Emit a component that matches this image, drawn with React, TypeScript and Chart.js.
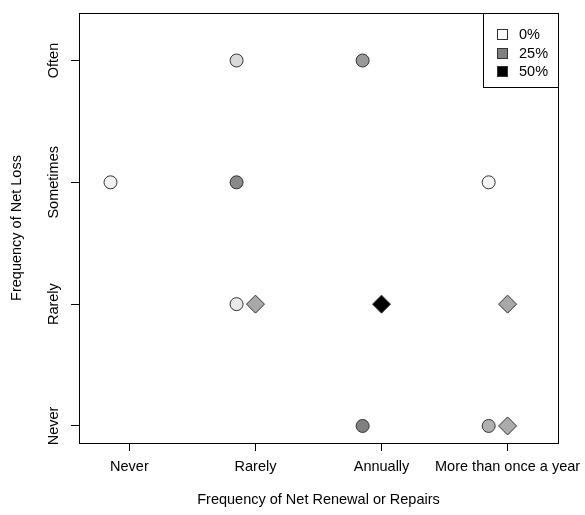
import React, { useEffect, useRef } from "react";
import { Chart, registerables } from "chart.js";
Chart.register(...registerables);

const renewalLabels = ["Never", "Rarely", "Annually", "More than once a year"];
const lossLabels = ["Never", "Rarely", "Sometimes", "Often"];

// circle markers: renewal category index (1-4), loss category index (1-4), percentage
const circleRenewal = [1, 2, 2, 2, 3, 3, 4, 4];
const circleLoss = [3, 4, 3, 2, 4, 1, 3, 1];
const circlePct = [3, 7.5, 23, 4.5, 20, 25, 2, 15.5];

// diamond markers
const diamondRenewal = [2, 3, 4, 4];
const diamondLoss = [2, 2, 2, 1];
const diamondPct = [17, 50, 17, 16.5];

const legendLabels = ["0%", "25%", "50%"];
const legendPct = [0, 25, 50];

const circleOffset = -0.15;
const FONT = "'Liberation Sans', Arial, sans-serif";
const FS = 14.5;

function gray(pct: number): string {
  const g = Math.round(255 * (1 - pct / 50));
  return `rgb(${g},${g},${g})`;
}

const overlayPlugin = {
  id: "overlay",
  afterDraw(chart: any) {
    const { ctx, chartArea } = chart;
    const ys = chart.scales.y;
    ctx.save();
    // plot box
    ctx.strokeStyle = "#000";
    ctx.lineWidth = 1;
    ctx.strokeRect(
      Math.round(chartArea.left) + 0.5,
      Math.round(chartArea.top) + 0.5,
      Math.round(chartArea.right - chartArea.left),
      Math.round(chartArea.bottom - chartArea.top)
    );
    // rotated y tick labels
    ctx.fillStyle = "#000";
    ctx.font = `${FS}px ${FONT}`;
    ctx.textAlign = "center";
    ctx.textBaseline = "middle";
    lossLabels.forEach((lab, i) => {
      const py = ys.getPixelForValue(i + 1);
      ctx.save();
      ctx.translate(54, py);
      ctx.rotate(-Math.PI / 2);
      ctx.fillText(lab, 0, 0);
      ctx.restore();
    });
    // legend
    const lx = 483;
    const lr = Math.round(chartArea.right);
    const lt = Math.round(chartArea.top);
    ctx.fillStyle = "#fff";
    ctx.fillRect(lx + 0.5, lt + 0.5, lr - lx, 74);
    ctx.strokeStyle = "#000";
    ctx.strokeRect(lx + 0.5, lt + 0.5, lr - lx, 74);
    legendLabels.forEach((lab, i) => {
      const cy = lt + 21 + i * 18.5;
      ctx.fillStyle = gray(legendPct[i]);
      ctx.fillRect(497.5, Math.round(cy - 5) + 0.5, 10, 10);
      ctx.strokeStyle = "#333";
      ctx.strokeRect(497.5, Math.round(cy - 5) + 0.5, 10, 10);
      ctx.fillStyle = "#000";
      ctx.textAlign = "left";
      ctx.fillText(lab, 519, cy + 1);
    });
    ctx.restore();
  },
};

export default function App() {
  const ref = useRef<HTMLCanvasElement | null>(null);
  useEffect(() => {
    if (!ref.current) return;
    const chart = new Chart(ref.current, {
      type: "scatter",
      data: {
        datasets: [
          {
            label: "circles",
            data: circleRenewal.map((x, i) => ({ x: x + circleOffset, y: circleLoss[i] })),
            pointStyle: "circle",
            pointRadius: 6.5,
            backgroundColor: circlePct.map(gray),
            borderColor: "#333",
            borderWidth: 1,
          },
          {
            label: "diamonds",
            data: diamondRenewal.map((x, i) => ({ x, y: diamondLoss[i] })),
            pointStyle: "rectRot",
            pointRadius: 9,
            backgroundColor: diamondPct.map(gray),
            borderColor: "#333",
            borderWidth: 1,
          },
        ],
      } as any,
      options: {
        animation: false,
        responsive: false,
        maintainAspectRatio: false,
        layout: { padding: { top: 13, right: 27, left: 0, bottom: 0 } },
        plugins: { legend: { display: false }, tooltip: { enabled: false } },
        scales: {
          x: {
            type: "linear",
            min: 0.6,
            max: 4.4,
            afterBuildTicks: (s: any) => {
              s.ticks = renewalLabels.map((_, i) => ({ value: i + 1 }));
            },
            afterFit: (s: any) => {
              s.height = 72;
              s.paddingLeft = 0;
              s.paddingRight = 0;
            },
            ticks: {
              autoSkip: false,
              maxRotation: 0,
              minRotation: 0,
              color: "#000",
              padding: 7,
              font: { size: FS, family: FONT },
              callback: (v: any) => renewalLabels[Math.round(v) - 1] ?? "",
            },
            grid: {
              display: true,
              drawOnChartArea: false,
              drawTicks: true,
              tickLength: 8,
              color: "#000",
            },
            border: { display: false },
            title: {
              display: true,
              text: "Frequency of Net Renewal or Repairs",
              color: "#000",
              font: { size: FS, family: FONT },
              padding: { top: 0, bottom: 6 },
            },
          },
          y: {
            type: "linear",
            min: 0.86,
            max: 4.39,
            afterBuildTicks: (s: any) => {
              s.ticks = lossLabels.map((_, i) => ({ value: i + 1 }));
            },
            afterFit: (s: any) => {
              s.width = 79;
              s.paddingTop = 0;
              s.paddingBottom = 0;
            },
            ticks: { display: false },
            grid: {
              display: true,
              drawOnChartArea: false,
              drawTicks: true,
              tickLength: 8,
              color: "#000",
            },
            border: { display: false },
            title: {
              display: true,
              text: "Frequency of Net Loss",
              color: "#000",
              font: { size: FS, family: FONT },
              padding: { top: 8, bottom: 0 },
            },
          },
        },
      } as any,
      plugins: [overlayPlugin],
    });
    return () => chart.destroy();
  }, []);
  return (
    <div style={{ position: "absolute", left: 0, top: 0, width: 585, height: 515, background: "#fff" }}>
      <canvas ref={ref} width={585} height={515} style={{ display: "block" }} />
    </div>
  );
}
